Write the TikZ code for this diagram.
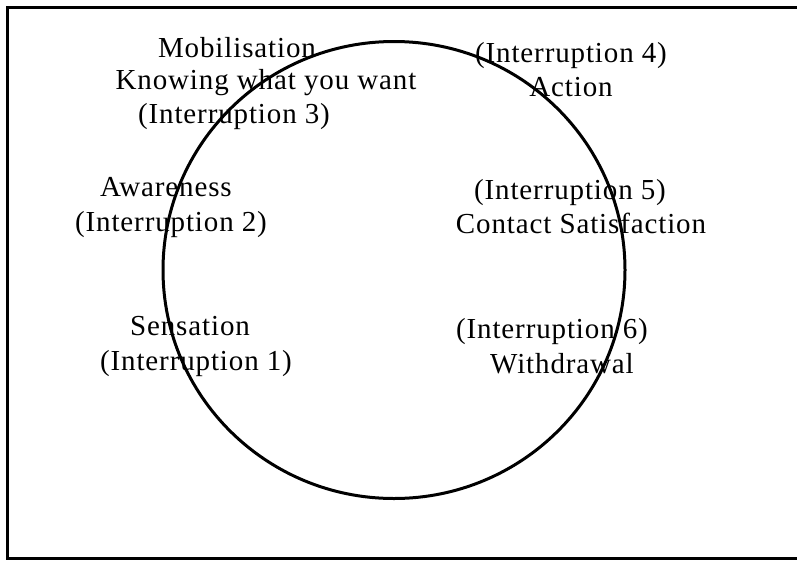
\documentclass[tikz,border=0pt]{standalone}
\usepackage{fontspec}
\setmainfont{Liberation Serif}[LetterSpace=3]
\usetikzlibrary{positioning}

\begin{document}
\begin{tikzpicture}[x=1pt, y=-1pt,
  lbl/.style={anchor=base, inner sep=0pt, font=\fontsize{29}{34}\selectfont},
  line/.style={line width=3pt}]
  \useasboundingbox (0,0) rectangle (797,563);

  % frame (right side falls off the page)
  \draw[line width=3pt] (797,7) -- (7,7) -- (7,558) -- (797,558);

  % the cycle
  \draw[line] (394,270) ellipse [x radius=231, y radius=228.5];

  % left half
  \node[lbl] (mob)   at (237,57)  {Mobilisation};
  \node[lbl] (know)  at (266,89)  {Knowing what you want};
  \node[lbl] (int3)  at (234,123) {(Interruption 3)};
  \node[lbl] (aware) at (166,196) {Awareness};
  \node[lbl] (int2)  at (171,231) {(Interruption 2)};
  \node[lbl] (sens)  at (190,335) {Sensation};
  \node[lbl] (int1)  at (196,370) {(Interruption 1)};

  % right half
  \node[lbl] (int4)  at (571,62)  {(Interruption 4)};
  \node[lbl] (act)   at (571,96)  {Action};
  \node[lbl] (int5)  at (570,199) {(Interruption 5)};
  \node[lbl] (cont)  at (581,233) {Contact Satisfaction};
  \node[lbl] (int6)  at (552,338) {(Interruption 6)};
  \node[lbl] (with)  at (562,373) {Withdrawal};
\end{tikzpicture}
\end{document}
